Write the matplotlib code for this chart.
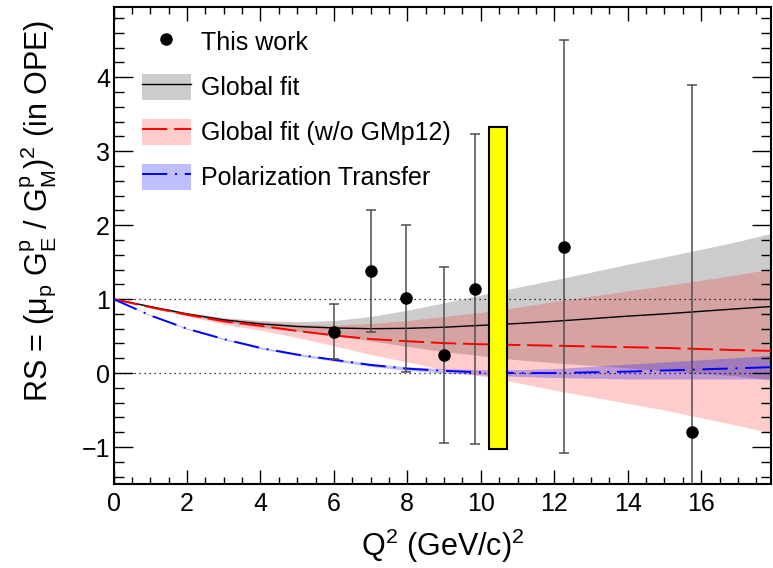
import numpy as np
import matplotlib
matplotlib.use("Agg")
import matplotlib.pyplot as plt
from matplotlib.patches import Patch
from matplotlib.lines import Line2D
from matplotlib.ticker import MultipleLocator

plt.rcParams["font.family"] = ["Liberation Sans", "DejaVu Sans"]
plt.rcParams["mathtext.fontset"] = "custom"
plt.rcParams["mathtext.rm"] = "Liberation Sans"
plt.rcParams["mathtext.it"] = "Liberation Sans:italic"

# --- data ---
q2_grid = [0, 1, 2, 3, 4, 5, 6, 7, 8, 9, 10, 11, 12, 13, 14, 15, 16, 17, 17.9]

global_fit = [1.0, 0.90, 0.80, 0.72, 0.665, 0.63, 0.61, 0.60, 0.605, 0.62,
              0.645, 0.67, 0.70, 0.735, 0.77, 0.80, 0.835, 0.87, 0.90]
global_err = [0.0, 0.01, 0.02, 0.03, 0.045, 0.065, 0.10, 0.165, 0.245, 0.33,
              0.41, 0.49, 0.56, 0.63, 0.70, 0.77, 0.84, 0.91, 0.99]

nogmp12_fit = [1.0, 0.89, 0.79, 0.70, 0.64, 0.57, 0.51, 0.46, 0.43, 0.405,
               0.39, 0.38, 0.37, 0.36, 0.35, 0.34, 0.325, 0.31, 0.30]
nogmp12_err = [0.0, 0.01, 0.02, 0.04, 0.06, 0.09, 0.14, 0.21, 0.28, 0.36,
               0.43, 0.51, 0.60, 0.68, 0.76, 0.84, 0.93, 1.02, 1.11]

poltr_fit = [1.0, 0.78, 0.60, 0.46, 0.34, 0.25, 0.18, 0.11, 0.06, 0.03,
             0.01, 0.0, 0.0, 0.01, 0.02, 0.035, 0.05, 0.065, 0.08]
poltr_err = [0.0, 0.005, 0.008, 0.01, 0.012, 0.015, 0.018, 0.02, 0.025, 0.03,
             0.035, 0.045, 0.06, 0.08, 0.10, 0.115, 0.13, 0.145, 0.16]

q2_data = [6.0, 7.02, 7.95, 9.0, 9.85, 12.26, 15.74]
rs_data = [0.56, 1.38, 1.01, 0.24, 1.14, 1.71, -0.80]
rs_low = [0.19, 0.56, 0.01, -0.95, -0.955, -1.08, -1.6]
rs_high = [0.93, 2.20, 2.00, 1.43, 3.23, 4.50, 3.90]

# systematic box
box_q2 = [10.465]
box_width = 0.47
box_low = [-1.02]
box_high = [3.33]

q = np.array(q2_grid)

def band(fit, err):
    f = np.array(fit)
    e = np.array(err)
    return f - e, f + e

fig = plt.figure(figsize=(7.73, 5.68), dpi=100)
ax = fig.add_axes([113.5/773, 1 - 484/568, (771 - 113.5)/773, (484 - 7)/568])

# bands
lo, hi = band(global_fit, global_err)
ax.fill_between(q, lo, hi, color="#cccccc", lw=0, zorder=1)
lo, hi = band(nogmp12_fit, nogmp12_err)
ax.fill_between(q, lo, hi, color="red", alpha=0.2, lw=0, zorder=1.1)
lo, hi = band(poltr_fit, poltr_err)
ax.fill_between(q, lo, hi, color="blue", alpha=0.25, lw=0, zorder=1.2)

# reference lines
for yref in [0, 1]:
    ax.axhline(yref, color="black", lw=0.9, ls=(0, (1, 3)), zorder=2)

# curves
ax.plot(q, global_fit, color="black", lw=1.0, zorder=3)
ax.plot(q, nogmp12_fit, color="red", lw=1.4, dashes=(13, 3.5), zorder=3)
ax.plot(q, poltr_fit, color="blue", lw=1.4, dashes=(13, 4, 1, 4), zorder=3)

# data points
yerr = [np.array(rs_data) - np.array(rs_low), np.array(rs_high) - np.array(rs_data)]
ax.errorbar(q2_data, rs_data, yerr=yerr, fmt="o", color="black", ms=8,
            ecolor="#4d4d4d", elinewidth=1.1, capsize=3.3, capthick=1.1, zorder=4)

# yellow box
ax.bar(box_q2, np.array(box_high) - np.array(box_low), bottom=box_low, width=box_width,
       color="yellow", edgecolor="black", lw=1.5, zorder=5)

ax.set_xlim(0, 17.9)
ax.set_ylim(-1.5, 4.95)
ax.xaxis.set_major_locator(MultipleLocator(2))
ax.xaxis.set_minor_locator(MultipleLocator(0.5))
ax.yaxis.set_major_locator(MultipleLocator(1))
ax.yaxis.set_minor_locator(MultipleLocator(0.2))
ax.tick_params(which="both", direction="in", top=True, right=True, width=1.0, labelsize=18)
ax.tick_params(axis="x", which="major", length=10, pad=6)
ax.tick_params(axis="x", which="minor", length=5)
ax.tick_params(axis="y", which="major", length=14, pad=2.5)
ax.tick_params(axis="y", which="minor", length=7)
for s in ax.spines.values():
    s.set_linewidth(1.5)

ax.set_xlabel(r"Q$^\mathregular{2}$ (GeV/c)$^\mathregular{2}$", fontsize=22)
ax.xaxis.set_label_coords(0.5, -0.09)
ax.set_ylabel(r"RS = (μ$_\mathregular{p}$ G$^\mathregular{p}_\mathregular{E}$ / "
              r"G$^\mathregular{p}_\mathregular{M}$)$^\mathregular{2}$ (in OPE)",
              fontsize=22, loc="top")
ax.yaxis.set_label_coords(-0.085, 0.973)

handles = [
    Line2D([], [], marker="o", color="black", ls="none", ms=8),
    (Patch(facecolor="#cccccc"), Line2D([], [], color="black", lw=1.0)),
    (Patch(facecolor="red", alpha=0.2), Line2D([], [], color="red", lw=1.4, dashes=(13, 3.5))),
    (Patch(facecolor="blue", alpha=0.25), Line2D([], [], color="blue", lw=1.4, dashes=(13, 4, 1, 4))),
]
labels = ["This work", "Global fit", "Global fit (w/o GMp12)", "Polarization Transfer"]
ax.legend(handles, labels, loc="upper left", bbox_to_anchor=(141.7/773, 1 - 28.5/568),
          bbox_transform=fig.transFigure, frameon=False, fontsize=18,
          handlelength=1.96, handleheight=1.24, handletextpad=0.4,
          labelspacing=0.74, borderpad=0, borderaxespad=0)

fig.savefig("out.png", dpi=100)
